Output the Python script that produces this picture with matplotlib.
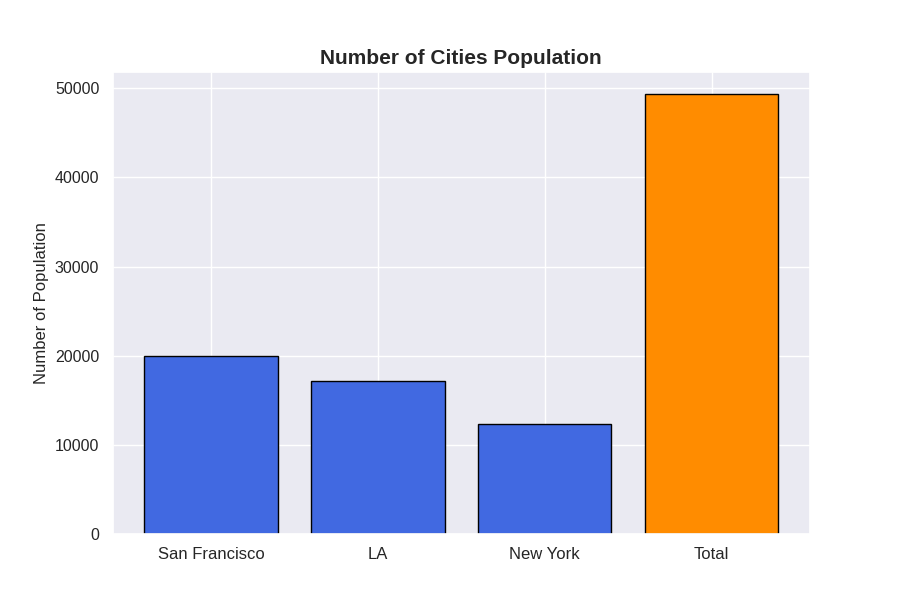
import matplotlib
matplotlib.use('Agg')
from matplotlib import pyplot as plt
import seaborn as sns

cities = ['San Francisco', 'LA', 'New York', 'Total']
population = [20000, 17150, 12300, 49350]
colors = ['royalblue', 'royalblue', 'royalblue', 'darkorange']

sns.set_theme(style='darkgrid')
plt.rcParams['font.family'] = ['Liberation Sans', 'DejaVu Sans']

fig, ax = plt.subplots(figsize=(9, 6), dpi=100)
ax.bar(cities, population, color=colors, edgecolor='black')
ax.set_title('Number of Cities Population', fontsize=15, fontweight='bold')
ax.set_ylabel('Number of Population')
ax.tick_params(axis='x', labelsize=12)
ax.tick_params(axis='y', labelsize=11.5)
fig.savefig('out.png')
